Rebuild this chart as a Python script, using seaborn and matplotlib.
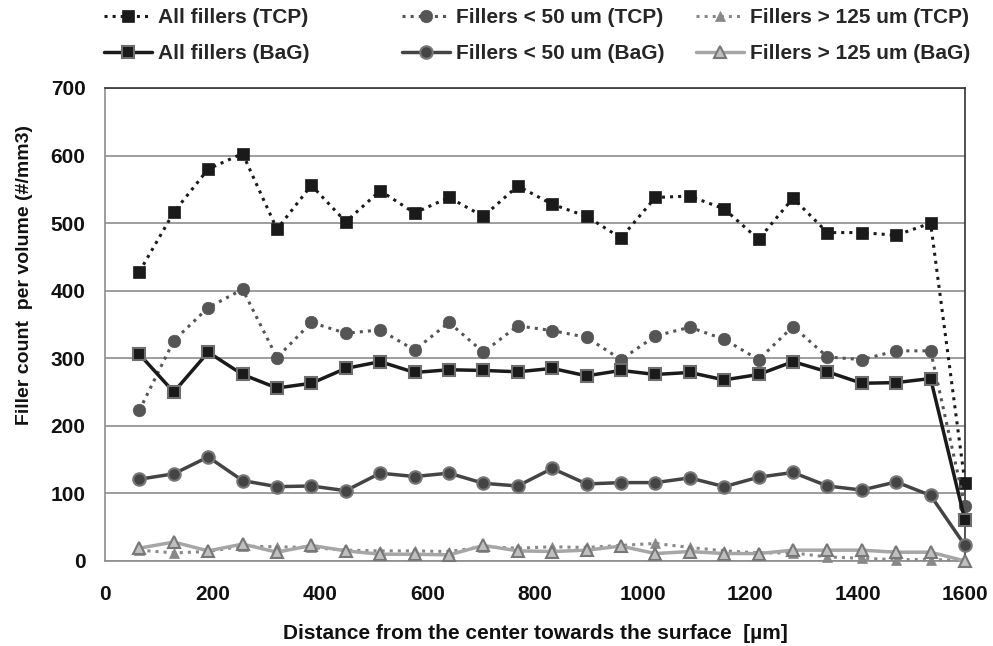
import numpy as np
import pandas as pd
import matplotlib
matplotlib.use("Agg")
import matplotlib.pyplot as plt
import seaborn as sns

distance = [64, 128, 192, 256, 320, 384, 448, 512, 576, 640, 704, 768, 832,
            896, 960, 1024, 1088, 1152, 1216, 1280, 1344, 1408, 1472, 1536, 1600]

all_tcp = [428, 516, 580, 603, 491, 556, 502, 548, 515, 538, 510, 555, 528,
           510, 478, 538, 540, 521, 476, 537, 486, 486, 482, 500, 115]
small_tcp = [223, 326, 375, 402, 301, 353, 337, 342, 312, 353, 309, 348, 341,
             331, 298, 333, 346, 328, 298, 347, 302, 298, 311, 311, 81]
large_tcp = [16, 12, 14, 22, 21, 20, 16, 15, 15, 14, 21, 19, 21,
             20, 23, 26, 20, 15, 12, 12, 6, 4, 2, 2, 1]
all_bag = [306, 250, 309, 276, 256, 263, 285, 295, 279, 283, 282, 280, 285,
           274, 282, 276, 279, 268, 276, 295, 280, 263, 264, 270, 60]
small_bag = [121, 129, 154, 119, 110, 111, 104, 130, 125, 130, 115, 111, 137,
             114, 116, 116, 123, 110, 124, 131, 111, 105, 117, 97, 23]
large_bag = [19, 28, 15, 25, 13, 23, 15, 10, 10, 9, 23, 15, 14,
             16, 22, 11, 14, 11, 11, 16, 16, 16, 13, 13, 0]

labels = ["All fillers (TCP)", "Fillers < 50 um (TCP)", "Fillers > 125 um (TCP)",
          "All fillers (BaG)", "Fillers < 50 um (BaG)", "Fillers > 125 um (BaG)"]
series = [all_tcp, small_tcp, large_tcp, all_bag, small_bag, large_bag]

styles = [
    dict(color="#1a1a1a", ls=":", lw=2.2, marker="s", ms=9, mfc="#1a1a1a", mec="#1a1a1a", mew=0.5),
    dict(color="#555555", ls=":", lw=2.2, marker="o", ms=9, mfc="#555555", mec="#555555", mew=0.5),
    dict(color="#888888", ls=":", lw=2.2, marker="^", ms=7, mfc="#888888", mec="#888888", mew=0.5),
    dict(color="#1a1a1a", ls="-", lw=2.5, marker="s", ms=9, mfc="#1a1a1a", mec="#6e6e6e", mew=1.5),
    dict(color="#444444", ls="-", lw=2.5, marker="o", ms=9, mfc="#444444", mec="#777777", mew=1.5),
    dict(color="#a6a6a6", ls="-", lw=2.5, marker="^", ms=9, mfc="#bfbfbf", mec="#777777", mew=1.5),
]

sns.set_theme(style="white")
plt.rcParams['font.family'] = ['Liberation Sans', 'DejaVu Sans']

fig = plt.figure(figsize=(9.93, 6.46), dpi=100)
ax = fig.add_axes([0.1057, 0.1316, 0.8661, 0.7322])

handles = {}
draw_order = [2, 5, 1, 4, 0, 3]
for i in draw_order:
    st = styles[i]
    df = pd.DataFrame({"x": distance, "y": series[i]})
    sns.lineplot(data=df, x="x", y="y", ax=ax, color=st["color"], linestyle=st["ls"],
                 linewidth=st["lw"], marker=st["marker"], markersize=st["ms"],
                 markerfacecolor=st["mfc"], markeredgecolor=st["mec"],
                 markeredgewidth=st["mew"], clip_on=False, zorder=3 + i)
    handles[i] = ax.lines[-1]

ax.set_xlim(0, 1600)
ax.set_ylim(0, 700)
ax.set_xticks(range(0, 1601, 200))
ax.set_yticks(range(0, 701, 100))
ax.yaxis.grid(True, color="#8c8c8c", lw=1.2)
ax.xaxis.grid(False)
for s in ["left", "bottom"]:
    ax.spines[s].set_color("#8c8c8c")
    ax.spines[s].set_linewidth(1.2)
for s in ["top", "right"]:
    ax.spines[s].set_color("#333333")
    ax.spines[s].set_linewidth(1.2)
ax.tick_params(axis="both", which="major", direction="out", length=5, width=1.2,
               color="#8c8c8c", labelsize=15)
ax.tick_params(axis="x", pad=12)
ax.tick_params(axis="y", pad=9)
for t in ax.get_xticklabels() + ax.get_yticklabels():
    t.set_fontweight("bold")
    t.set_color("#111111")

ax.set_xlabel("Distance from the center towards the surface  [µm]", fontsize=15,
              fontweight="bold", color="#111111", labelpad=15)
ax.set_ylabel("Filler count  per volume (#/mm3)", fontsize=14,
              fontweight="bold", color="#111111")
ax.yaxis.set_label_coords(-0.084, 0.605)

col_x = [0.1047, 0.4048, 0.7009]
pairs = [(0, 3), (1, 4), (2, 5)]
for cx, (a, b) in zip(col_x, pairs):
    fig.legend([handles[a], handles[b]], [labels[a], labels[b]],
               loc="center left", bbox_to_anchor=(cx, 0.945),
               frameon=False, prop={"weight": "bold", "size": 15},
               handlelength=2.3, handletextpad=0.3, borderpad=0,
               borderaxespad=0, labelspacing=0.8)

fig.savefig("out.png", dpi=100)
